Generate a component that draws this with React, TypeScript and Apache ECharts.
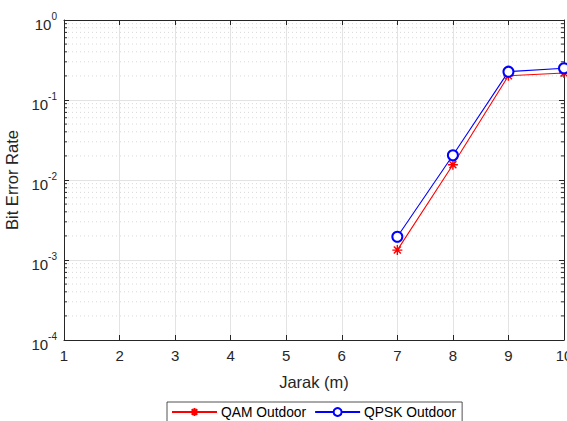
import React, { useEffect, useRef } from "react";
import * as echarts from "echarts";

const distances = [7, 8, 9, 10];
const qamOutdoor = [0.00133, 0.0155, 0.201, 0.2175];
const qpskOutdoor = [0.00195, 0.0204, 0.226, 0.249];
const xTicks = [1, 2, 3, 4, 5, 6, 7, 8, 9, 10];
const decades = [1e-4, 1e-3, 1e-2, 1e-1];
const minorSteps = [2, 3, 4, 5, 6, 7, 8, 9];

const FONT = "Liberation Sans, Arial, sans-serif";
const TXT = "#262626";

const asterisk =
  "path://M0,-10L0,10M-10,0L10,0M-7,-7L7,7M-7,7L7,-7";

export default function App() {
  const ref = useRef<HTMLDivElement>(null);
  useEffect(() => {
    if (!ref.current) return;
    const chart = echarts.init(ref.current, null, { renderer: "svg" });
    const minorVals: number[][] = [];
    decades.forEach((d) => minorSteps.forEach((k) => minorVals.push([1, k * d])));
    const yLabel = (v: number) => {
      const e = Math.round(Math.log10(v));
      return `{b|10}{e|${e}}`;
    };
    chart.setOption({
      animation: false,
      backgroundColor: "#ffffff",
      textStyle: { fontFamily: FONT },
      grid: {
        left: 64,
        top: 20,
        right: 3,
        bottom: 81,
        containLabel: false,
        outerBoundsMode: "none",
      },
      xAxis: [
        {
          type: "value",
          min: 1,
          max: 10,
          interval: 1,
          name: "Jarak (m)",
          nameLocation: "middle",
          nameGap: 33,
          nameTextStyle: { color: TXT, fontSize: 16.5, fontFamily: FONT },
          axisLine: { lineStyle: { color: TXT, width: 1 } },
          axisTick: { inside: true, length: 5, lineStyle: { color: TXT } },
          axisLabel: {
            color: TXT,
            fontSize: 15,
            fontFamily: FONT,
            margin: 8,
            hideOverlap: false,
            showMinLabel: true,
            showMaxLabel: true,
            formatter: (v: number) => (xTicks.includes(v) ? String(v) : ""),
          },
          splitLine: { show: true, lineStyle: { color: "#e3e3e3", width: 1 } },
        },
        {
          type: "value",
          position: "top",
          min: 1,
          max: 10,
          interval: 1,
          axisLine: { lineStyle: { color: TXT, width: 1 } },
          axisTick: { inside: true, length: 5, lineStyle: { color: TXT } },
          axisLabel: { show: false },
          splitLine: { show: false },
        },
      ],
      yAxis: [
        {
          type: "log",
          logBase: 10,
          min: 1e-4,
          max: 1,
          splitNumber: 4,
          name: "Bit Error Rate",
          nameLocation: "middle",
          nameGap: 42,
          nameTextStyle: { color: TXT, fontSize: 16.5, fontFamily: FONT },
          axisLine: { show: true, lineStyle: { color: TXT, width: 1 } },
          axisTick: { inside: true, length: 5, lineStyle: { color: TXT } },
          axisLabel: {
            color: TXT,
            margin: 7,
            formatter: yLabel,
            rich: {
              b: { fontSize: 15, fontFamily: FONT, color: TXT, padding: [8, 0, 0, 0] },
              e: { fontSize: 10, fontFamily: FONT, color: TXT, padding: [0, 0, 8, 0] },
            },
          },
          splitLine: { show: true, lineStyle: { color: "#e3e3e3", width: 1 } },
        },
        {
          type: "log",
          logBase: 10,
          position: "right",
          min: 1e-4,
          max: 1,
          splitNumber: 4,
          axisLine: { show: true, lineStyle: { color: TXT, width: 1 } },
          axisTick: { inside: true, length: 5, lineStyle: { color: TXT } },
          axisLabel: { show: false },
          splitLine: { show: false },
        },
      ],
      legend: {
        left: 167,
        top: 402,
        orient: "horizontal",
        itemWidth: 45,
        itemHeight: 10,
        itemGap: 8,
        padding: [3, 6, 6, 4],
        borderColor: TXT,
        borderWidth: 0.8,
        borderRadius: 0,
        backgroundColor: "#ffffff",
        textStyle: { color: "#000", fontSize: 13.8, fontFamily: FONT, padding: [0, 0, 0, -1] },
        data: ["QAM Outdoor", "QPSK Outdoor"],
      },
      series: [
        {
          type: "custom",
          name: "minor",
          silent: true,
          z: 0,
          data: minorVals,
          encode: { x: 0, y: 1 },
          renderItem: (params: any, api: any) => {
            const v = api.value(1);
            const p1 = api.coord([1, v]);
            const p2 = api.coord([10, v]);
            return {
              type: "group",
              children: [
                {
                  type: "line",
                  shape: { x1: p1[0], y1: p1[1], x2: p2[0], y2: p2[1] },
                  style: { stroke: "#d9d9d9", lineWidth: 1, lineDash: [1, 3] },
                },
                {
                  type: "line",
                  shape: { x1: p1[0], y1: p1[1], x2: p1[0] + 3, y2: p1[1] },
                  style: { stroke: TXT, lineWidth: 1 },
                },
                {
                  type: "line",
                  shape: { x1: p2[0] - 3, y1: p2[1], x2: p2[0], y2: p2[1] },
                  style: { stroke: TXT, lineWidth: 1 },
                },
              ],
            };
          },
        },
        {
          type: "line",
          name: "QAM Outdoor",
          z: 3,
          data: distances.map((d, i) => [d, qamOutdoor[i]]),
          symbol: asterisk,
          symbolSize: 10,
          lineStyle: { color: "#ff0000", width: 1.1 },
          itemStyle: { color: "#ff0000", borderColor: "#ff0000", borderWidth: 1.4 },
        },
        {
          type: "line",
          name: "QPSK Outdoor",
          z: 4,
          data: distances.map((d, i) => [d, qpskOutdoor[i]]),
          symbol: "emptyCircle",
          symbolSize: 10,
          lineStyle: { color: "#0000ff", width: 1.1 },
          itemStyle: { color: "#0000ff", borderColor: "#0000ff", borderWidth: 0.9 },
        },
      ],
    });
    return () => chart.dispose();
  }, []);
  return <div ref={ref} style={{ width: 567, height: 421, position: "absolute", left: 0, top: 0 }} />;
}
